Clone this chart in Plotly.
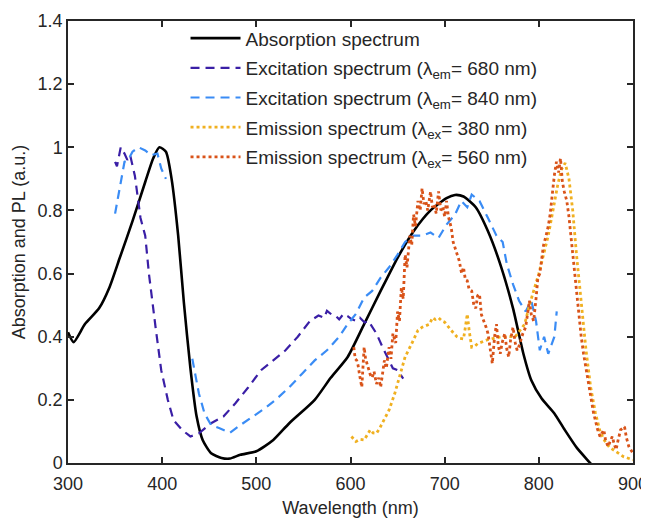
import plotly.graph_objects as go

# ---------------- data ----------------
abs_x = [300, 306, 318, 333, 344, 355, 368.5, 382, 390.5, 397, 404, 410, 417, 423, 430, 436.6, 443, 452, 463, 472,
         483, 500, 518, 535, 562, 579, 597, 614.5, 632, 650, 667, 685, 702, 711, 720, 733, 746, 759, 772.6, 783.6,
         792, 803, 816.5, 827.5, 840.6, 856, 860]
abs_y = [0.414, 0.383, 0.44, 0.49, 0.556, 0.65, 0.766, 0.89, 0.965, 1.0, 0.986, 0.90, 0.72, 0.51, 0.30, 0.147, 0.073,
         0.031, 0.016, 0.014, 0.026, 0.037, 0.073, 0.126, 0.20, 0.27, 0.336, 0.44, 0.545, 0.65, 0.734, 0.80, 0.839,
         0.849, 0.844, 0.81, 0.734, 0.63, 0.49, 0.346, 0.262, 0.204, 0.157, 0.105, 0.047, -0.005, -0.02]

ex680_x = [350, 352, 356, 360, 363, 366, 371, 377, 382, 386, 393, 399, 406, 412, 421, 430, 439, 452, 465, 478, 491.5,
           505, 518, 531, 544, 557, 566, 572, 575, 580, 584, 588, 592.5, 597, 601, 606, 610, 615, 619, 623, 627.6, 634,
           641, 645, 650, 656]
ex680_y = [0.954, 0.94, 1.0, 0.98, 0.96, 0.975, 0.91, 0.776, 0.72, 0.598, 0.43, 0.294, 0.20, 0.136, 0.105, 0.084,
           0.094, 0.126, 0.147, 0.19, 0.24, 0.294, 0.325, 0.357, 0.40, 0.45, 0.467, 0.46, 0.482, 0.47, 0.467, 0.455,
           0.472, 0.465, 0.456, 0.45, 0.46, 0.445, 0.45, 0.43, 0.41, 0.367, 0.325, 0.30, 0.294, 0.267]

ex840_x = [350, 355, 360, 364, 368.5, 375, 382, 388, 395, 399, 404, None, 432, 439, 445, 452, 461, 472, 483, 496, 509,
           522, 535, 548.6, 562, 575, 588, 597, 605.7, 614.5, 623, 632, 641, 650, 658, 667, 676, 685, 693.5, 702, 711,
           717.7, 724, 728.7, 737, 746, 755, 761.6, 766, 772.6, 779, 786, 792, 797, 801, 805.6, 810, 816.5, 819]
ex840_y = [0.79, 0.87, 0.954, 0.96, 0.986, 1.0, 0.99, 0.975, 0.98, 0.933, 0.90, None, 0.33, 0.22, 0.157, 0.12, 0.11,
           0.096, 0.12, 0.147, 0.173, 0.204, 0.24, 0.283, 0.325, 0.357, 0.40, 0.44, 0.472, 0.524, 0.545, 0.587, 0.62,
           0.66, 0.70, 0.72, 0.72, 0.73, 0.713, 0.755, 0.787, 0.83, 0.81, 0.85, 0.83, 0.776, 0.72, 0.70, 0.63, 0.566,
           0.514, 0.48, 0.514, 0.45, 0.357, 0.40, 0.346, 0.40, 0.48]

em380_x = [601, 605.7, 610, 614.5, 618, 621, 624, 627.6, 631, 634, 641, 647, 652, 658, 665, 671.6, 676, 680, 684, 687,
           690, 693.5, 697, 700, 704, 707, 710, 713, 716, 720, 722, 724, 726, 728.7, 732, 735, 745, 760, 775, 785, 790,
           795, 800, 805, 810, 815, 820, 824, 828, 832, 836, 840, 845, 850, 855, 860, 865, 870, 875, 880, 885, 890,
           895, 900]
em380_y = [0.084, 0.068, 0.075, 0.073, 0.09, 0.105, 0.095, 0.094, 0.11, 0.126, 0.168, 0.22, 0.273, 0.336, 0.378, 0.42,
           0.43, 0.435, 0.44, 0.46, 0.455, 0.46, 0.45, 0.446, 0.43, 0.42, 0.41, 0.40, 0.395, 0.393, 0.43, 0.472, 0.42,
           0.367, 0.37, 0.378, 0.39, 0.40, 0.40, 0.44, 0.50, 0.55, 0.60, 0.66, 0.72, 0.80, 0.88, 0.93, 0.95, 0.90,
           0.80, 0.66, 0.50, 0.36, 0.24, 0.16, 0.10, 0.07, 0.05, 0.04, 0.03, 0.02, 0.015, 0.01]

em560_x = [603.5, 605, 606.6, 608, 610, 612, 614.5, 616, 619, 621, 623, 625, 627.6, 630, 632, 634, 636, 638, 641, 643,
           645, 648, 650, 652, 654, 656, 658, 660, 663, 665, 667, 669, 671.6, 674, 676, 678, 680, 682, 685, 687, 689,
           691, 693.5, 696, 698, 700, 702, 704, 707, 709, 711, 713, 715.5, 718, 720, 722, 724, 726, 728.7, 731, 733,
           735, 737, 739, 741.8, 744, 746, 748, 750.6, 753, 755, 757, 759, 761, 763.8, 766, 768, 770, 772.6, 775, 777,
           779, 781, 783, 786, 788, 790, 792, 794.5, 797, 799, 801, 803, 805, 807.7, 810, 812, 814, 816.5, 818.7, 821,
           823, 825, 827, 829.7, 832, 834, 836, 838.5, 841, 843, 845, 847.5, 850, 852, 854, 856, 858, 860, 862, 865,
           867, 869, 871, 873.6, 876, 878, 880, 882, 884, 886.8, 889, 891, 893, 895.6, 898, 900]
em560_y = [0.367, 0.33, 0.325, 0.31, 0.273, 0.24, 0.367, 0.33, 0.30, 0.28, 0.27, 0.29, 0.25, 0.27, 0.24, 0.28, 0.325,
           0.30, 0.367, 0.33, 0.41, 0.38, 0.48, 0.45, 0.556, 0.52, 0.66, 0.62, 0.72, 0.69, 0.787, 0.75, 0.83, 0.80,
           0.87, 0.82, 0.83, 0.80, 0.86, 0.81, 0.82, 0.79, 0.86, 0.80, 0.81, 0.78, 0.83, 0.78, 0.745, 0.70, 0.68,
           0.66, 0.64, 0.60, 0.62, 0.58, 0.577, 0.55, 0.545, 0.50, 0.49, 0.53, 0.535, 0.47, 0.45, 0.43, 0.41, 0.36,
           0.315, 0.40, 0.44, 0.37, 0.346, 0.38, 0.41, 0.36, 0.336, 0.39, 0.43, 0.38, 0.357, 0.37, 0.39, 0.41, 0.43,
           0.47, 0.514, 0.47, 0.45, 0.52, 0.587, 0.60, 0.64, 0.69, 0.72, 0.75, 0.787, 0.85, 0.912, 0.954, 0.92, 0.965,
           0.89, 0.86, 0.83, 0.78, 0.72, 0.66, 0.598, 0.53, 0.46, 0.40, 0.346, 0.30, 0.262, 0.22, 0.189, 0.16, 0.136,
           0.11, 0.084, 0.095, 0.105, 0.07, 0.052, 0.07, 0.084, 0.06, 0.042, 0.07, 0.105, 0.11, 0.115, 0.08, 0.052,
           0.04, 0.031]

x_ticks = [300, 400, 500, 600, 700, 800, 900]
y_ticks = [0, 0.2, 0.4, 0.6, 0.8, 1.0, 1.2, 1.4]
y_tick_text = ["0", "0.2", "0.4", "0.6", "0.8", "1", "1.2", "1.4"]

names = ["Absorption spectrum",
         "Excitation spectrum (λ<sub>em</sub>= 680 nm)",
         "Excitation spectrum (λ<sub>em</sub>= 840 nm)",
         "Emission spectrum (λ<sub>ex</sub>= 380 nm)",
         "Emission spectrum (λ<sub>ex</sub>= 560 nm)"]

# ---------------- figure ----------------
FONT = "Liberation Sans, Arial, sans-serif"
TXT = "#262626"

fig = go.Figure()
fig.add_trace(go.Scatter(x=abs_x, y=abs_y, mode="lines", name=names[0], legendgroup="g0",
                         line=dict(color="#000000", width=2.6, shape="spline", smoothing=0.6)))
fig.add_trace(go.Scatter(x=ex680_x, y=ex680_y, mode="lines", name=names[1], connectgaps=False, legendgroup="g1",
                         line=dict(color="#3a1fa6", width=2.2, dash="9px,6px")))
fig.add_trace(go.Scatter(x=ex840_x, y=ex840_y, mode="lines", name=names[2], connectgaps=False, legendgroup="g2",
                         line=dict(color="#3a8cf5", width=2.2, dash="9px,6px")))
fig.add_trace(go.Scatter(x=em380_x, y=em380_y, mode="lines", name=names[3], legendgroup="g3",
                         line=dict(color="#f0b020", width=2.8, dash="3px,3px")))
fig.add_trace(go.Scatter(x=em560_x, y=em560_y, mode="lines", name=names[4], legendgroup="g4",
                         line=dict(color="#d95319", width=2.8, dash="3px,3px")))

axis_common = dict(showgrid=False, zeroline=False, showline=True, linecolor=TXT, linewidth=1.5,
                   ticks="inside", ticklen=6, tickwidth=1.5, tickcolor=TXT, mirror="ticks",
                   automargin=False, tickfont=dict(family=FONT, size=18, color=TXT))

# the page body adds an 8px margin, so the figure is sized to fill the rest of the window
fig.update_layout(
    width=641, height=510,
    margin=dict(l=60, r=16, t=11, b=55),
    paper_bgcolor="white", plot_bgcolor="white",
    font=dict(family=FONT, size=18, color=TXT),
    xaxis=dict(range=[300, 900], tickvals=x_ticks, ticklabelstandoff=4, **axis_common,
               title=dict(text="Wavelength (nm)", standoff=11, font=dict(family=FONT, size=18, color=TXT))),
    yaxis=dict(range=[0, 1.4], tickvals=y_ticks, ticktext=y_tick_text, **axis_common,
               title=dict(text="Absorption and PL (a.u.)", standoff=7, font=dict(family=FONT, size=18, color=TXT))),
    legend=dict(x=0.208, y=1.004, xanchor="left", yanchor="top", bgcolor="rgba(0,0,0,0)",
                font=dict(family=FONT, size=19, color=TXT), itemwidth=50, tracegroupgap=2),
    showlegend=True,
)

fig.write_html("out.html")
